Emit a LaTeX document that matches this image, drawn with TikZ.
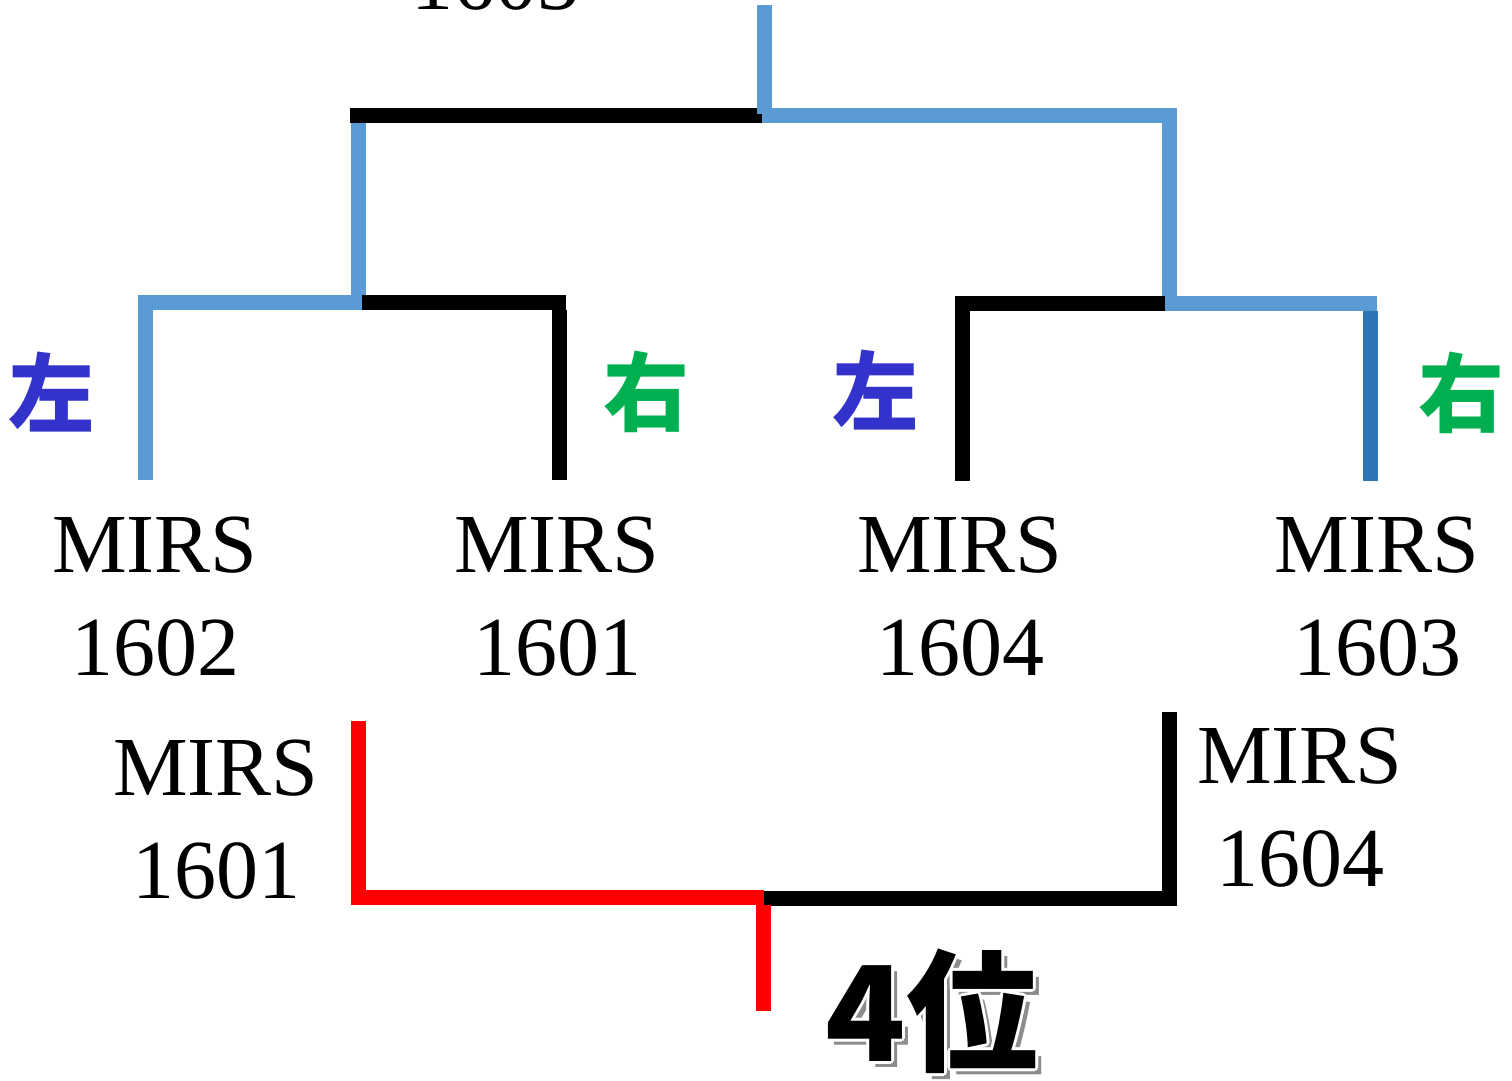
\documentclass[tikz,border=0pt]{standalone}
\usepackage{fontspec}
\setmainfont{Liberation Serif}
\newfontfamily\cjk{Noto Sans CJK JP}
\definecolor{lblue}{HTML}{5B9BD5}
\definecolor{dblue}{HTML}{2E75B6}
\definecolor{lftc}{HTML}{3333CC}
\definecolor{rgtc}{HTML}{00B050}
\definecolor{redc}{HTML}{FF0000}
\tikzset{
  seg/.style={line width=15pt, line cap=butt},
  team/.style={inner sep=0pt, align=center, font=\fontsize{84}{103}\selectfont},
  side/.style={inner sep=0pt, font=\cjk\bfseries\fontsize{86}{86}\selectfont},
  rank/.style={inner sep=0pt, font=\cjk\bfseries\fontsize{132}{132}\selectfont}
}
\begin{document}
\begin{tikzpicture}[x=1pt,y=-1pt]
\useasboundingbox (0,0) rectangle (1512,1081);
% coordinates
\coordinate (top) at (764,5);
\coordinate (tm) at (764,115.5);
\coordinate (tl) at (350,115.5);
\coordinate (tlc) at (358,115.5);
\coordinate (tr) at (1177,115.5);
\coordinate (trc) at (1169,115.5);
\coordinate (tmb) at (762,115.5);
\coordinate (lm) at (358,302.5);
\coordinate (lmb) at (362,302.5);
\coordinate (ll) at (138,302.5);
\coordinate (llc) at (145,302.5);
\coordinate (lr) at (566,302.5);
\coordinate (lrc) at (559,302.5);
\coordinate (llb) at (145,480);
\coordinate (lrb) at (559,480);
\coordinate (rm) at (1169,303.5);
\coordinate (rmb) at (1165,303.5);
\coordinate (rl) at (955,303.5);
\coordinate (rlc) at (962.5,303.5);
\coordinate (rr) at (1377,303.5);
\coordinate (rrc) at (1370,311);
\coordinate (rlb) at (962.5,481);
\coordinate (rrb) at (1370,481);
\coordinate (bl) at (358.5,721);
\coordinate (blc) at (358.5,897.5);
\coordinate (bls) at (351,897.5);
\coordinate (bm) at (763.5,897.5);
\coordinate (bmr) at (763.5,898.5);
\coordinate (br) at (1169,898.5);
\coordinate (bre) at (1176.5,898.5);
\coordinate (brt) at (1169,712);
\coordinate (brb) at (1169,906);
\coordinate (bot) at (763.5,1011);
% top level
\draw[seg,black] (tl) -- (tmb);
\draw[seg,lblue] (tmb) -- (tr);
\draw[seg,lblue] (top) -- ([yshift=2pt]tm);
\draw[seg,lblue] ([yshift=-7.5pt]tlc) -- (lm);
\draw[seg,lblue] (trc) -- ([yshift=-3pt]rm);
% left bracket
\draw[seg,black] (lmb) -- (lr);
\draw[seg,lblue] (ll) -- (lmb);
\draw[seg,lblue] ([yshift=-7.5pt]llc) -- (llb);
\draw[seg,black] ([yshift=-7.5pt]lrc) -- (lrb);
% right bracket
\draw[seg,black] (rl) -- (rmb);
\draw[seg,lblue] (rmb) -- (rr);
\draw[seg,black] ([yshift=-7.5pt]rlc) -- (rlb);
\draw[seg,dblue] (rrc) -- (rrb);
% bottom
\draw[seg,black] (bmr) -- (bre);
\draw[seg,black] (brt) -- (brb);
\draw[seg,redc] (bl) -- ([yshift=7.5pt]blc);
\draw[seg,redc] (bls) -- (bm);
\draw[seg,redc] ([yshift=-7.5pt]bm) -- (bot);
% side labels
\node[side,text=lftc] (s1) at (52,392) {左};
\node[side,text=rgtc] (s2) at (646,392) {右};
\node[side,text=lftc] (s3) at (875,390) {左};
\node[side,text=rgtc] (s4) at (1461,393) {右};
% team names
\node[team] (t0) at (495,-69.5) {MIRS\\1603};
\node[team] (t1) at (155,597) {MIRS\\1602};
\node[team] (t2) at (557,597) {MIRS\\1601};
\node[team] (t3) at (960,597) {MIRS\\1604};
\node[team] (t4) at (1377,597) {MIRS\\1603};
\node[team] (t5) at (216,820) {MIRS\\1601};
\node[team] (t6) at (1300,808) {MIRS\\1604};
% rank
\node[rank,text=black!45] at (938,1017) {4位};
\foreach \dx/\dy in {-3/0,3/0,0/-3,0/3,-2/-2,2/2,-2/2,2/-2}
  \node[rank,text=white] at (932+\dx,1011+\dy) {4位};
\node[rank,text=black] (rk) at (932,1011) {4位};
\end{tikzpicture}
\end{document}
